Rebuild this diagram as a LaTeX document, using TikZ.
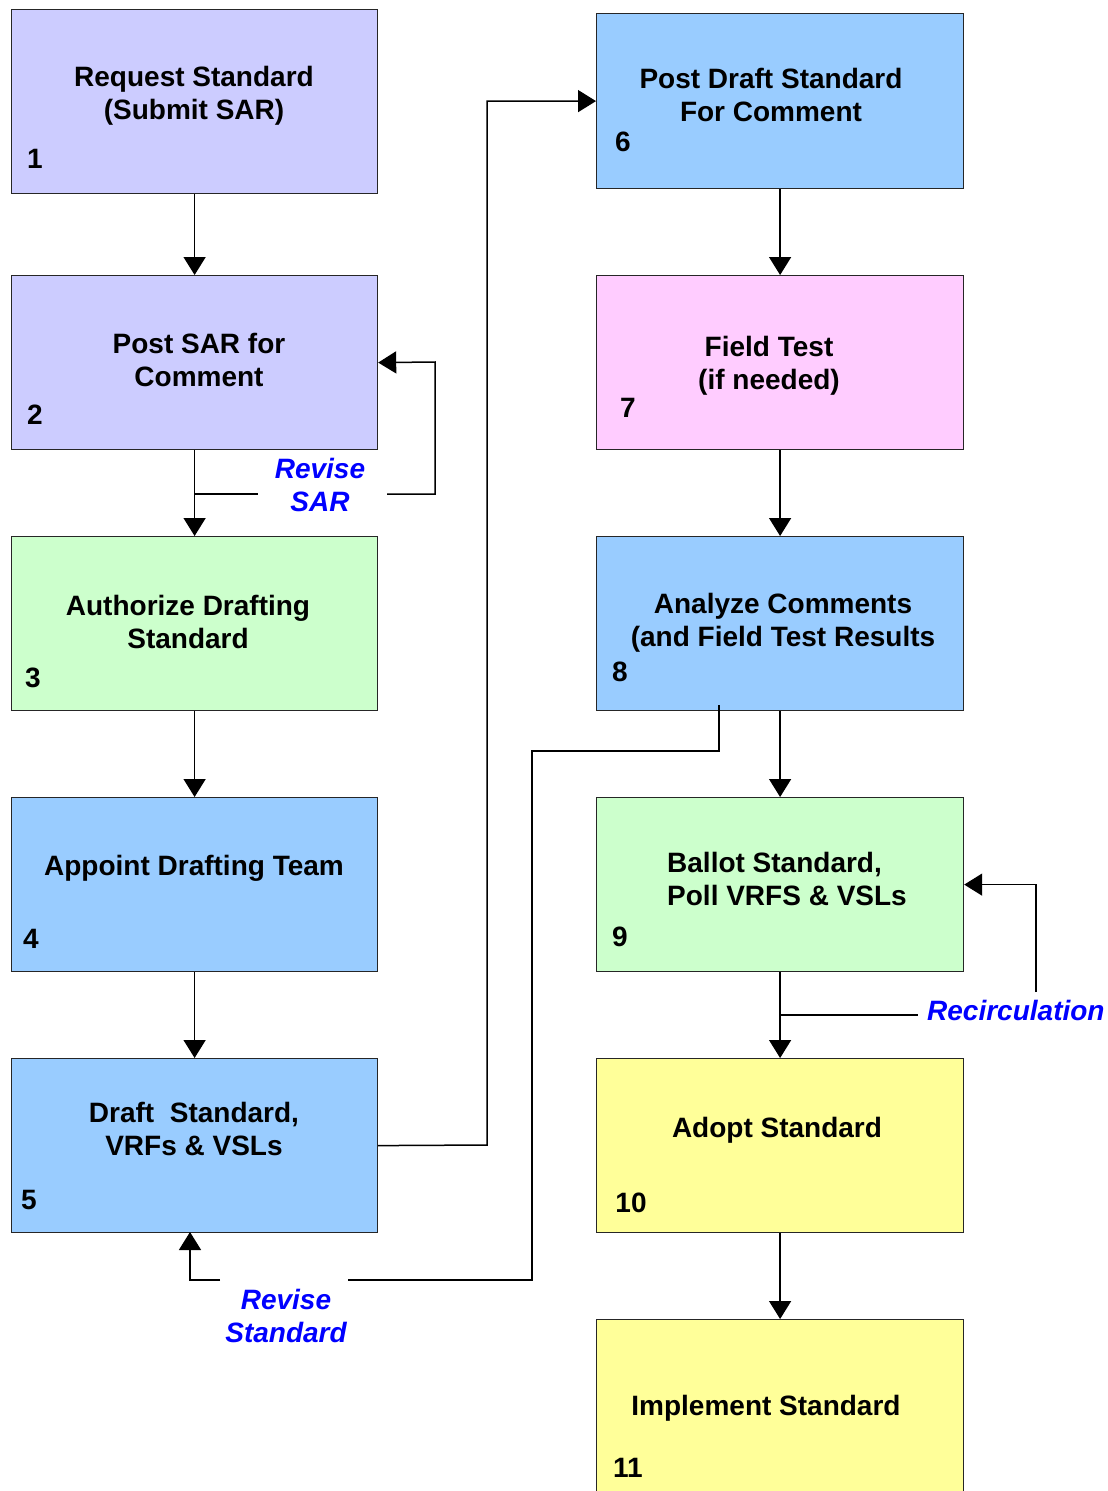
\documentclass[tikz,border=0pt]{standalone}
\usepackage{fontspec}
\setmainfont{Liberation Sans}
\usetikzlibrary{arrows.meta}
\definecolor{lav}{HTML}{CCCCFF}
\definecolor{grn}{HTML}{CCFFCC}
\definecolor{sky}{HTML}{99CCFF}
\definecolor{pnk}{HTML}{FFCCFF}
\definecolor{yel}{HTML}{FFFF99}
\definecolor{lblue}{HTML}{0000FF}
\begin{document}
\begin{tikzpicture}[x=1pt,y=-1pt,
  box/.style={draw=black!85, line width=1.2pt, minimum width=366pt, minimum height=174pt, inner sep=0pt, anchor=north west},
  txt/.style={inner sep=0pt, align=center, font=\fontsize{28pt}{33pt}\selectfont\bfseries},
  num/.style={inner sep=0pt, font=\fontsize{28pt}{33pt}\selectfont\bfseries},
  lab/.style={inner sep=0pt, align=center, text=lblue, font=\fontsize{28pt}{33pt}\selectfont\bfseries\itshape},
  ln/.style={line width=1.5pt, draw=black},
  arr/.style={ln, -{Triangle[width=22pt,length=18pt]}}]
\useasboundingbox (0,0) rectangle (1108,1491);
\fill[white] (0,0) rectangle (1108,1491);

% boxes
\node[box, fill=lav, minimum height=184pt] (b1) at (11,9) {};
\node[box, fill=lav] (b2) at (11,275) {};
\node[box, fill=grn] (b3) at (11,536) {};
\node[box, fill=sky] (b4) at (11,797) {};
\node[box, fill=sky] (b5) at (11,1058) {};
\node[box, fill=sky, minimum width=367pt, minimum height=175pt] (b6) at (596,13) {};
\node[box, fill=pnk, minimum width=367pt] (b7) at (596,275) {};
\node[box, fill=sky, minimum width=367pt] (b8) at (596,536) {};
\node[box, fill=grn, minimum width=367pt] (b9) at (596,797) {};
\node[box, fill=yel, minimum width=367pt] (b10) at (596,1058) {};
\node[box, fill=yel, minimum width=367pt, minimum height=200pt] (b11) at (596,1319) {};

% texts
\node[txt] (t1) at (194,96) {Request Standard\\(Submit SAR)};
\node[num] (n1) at (35,159) {1};
\node[txt] (t2) at (199,360) {Post SAR for\\Comment};
\node[num] (n2) at (35,415) {2};
\node[txt] (t3) at (188,622) {Authorize Drafting\\Standard};
\node[num] (n3) at (33,678) {3};
\node[txt] (t4) at (194,868) {Appoint Drafting Team};
\node[num] (n4) at (31,939) {4};
\node[txt] (t5) at (194,1129) {Draft~~Standard,\\VRFs \& VSLs};
\node[num] (n5) at (29,1200) {5};
\node[txt] (t6) at (771,95) {Post Draft Standard\\For Comment};
\node[num] (n6) at (623,142) {6};
\node[txt] (t7) at (769,366) {Field Test\\(if needed)};
\node[num] (n7) at (628,408) {7};
\node[txt] (t8) at (783,623) {Analyze Comments\\(and Field Test Results};
\node[num] (n8) at (620,672) {8};
\node[txt, align=left, anchor=west] (t9) at (667,879) {Ballot Standard,\\Poll VRFS \& VSLs};
\node[num] (n9) at (620,937) {9};
\node[txt] (t10) at (777,1130) {Adopt Standard};
\node[num] (n10) at (631,1203) {10};
\node[txt] (t11) at (766,1408) {Implement Standard};
\node[num] (n11) at (628,1468) {11};

% labels
\node[lab] (l1) at (320,485) {Revise\\SAR};
\node[lab] (l2) at (286,1316) {Revise\\Standard};
\node[lab, anchor=west] (l3) at (927,1010) {Recirculation};

% coordinates
\coordinate (j1) at (194,494);
\coordinate (g1) at (258,494);
\coordinate (g2) at (387,494);
\coordinate (c1) at (435,362);
\coordinate (c2) at (487,1145);
\coordinate (j2) at (780,1015);
\coordinate (g3) at (918,1015);
\coordinate (g4) at (1036,992);
\coordinate (s8) at (719,705);
\coordinate (c3) at (532,751);
\coordinate (g5) at (348,1280);
\coordinate (g6) at (220,1280);
\coordinate (e5) at (190,1232);

% connectors
\draw[arr] (b1.south) -- (b2.north);
\draw[arr] (b2.south) -- (b3.north);
\draw[ln] (j1) -- (g1);
\draw[arr] (g2) -| (c1) -- (b2.east);
\draw[arr] (b3.south) -- (b4.north);
\draw[arr] (b4.south) -- (b5.north);
\draw[arr] (b5.east) -- (c2) |- (b6.west);
\draw[arr] (b6.south) -- (b7.north);
\draw[arr] (b7.south) -- (b8.north);
\draw[arr] (b8.south) -- (b9.north);
\draw[arr] (b9.south) -- (b10.north);
\draw[arr] (b10.south) -- (b11.north);
\draw[ln] (j2) -- (g3);
\draw[arr] (g4) |- (b9.east);
\draw[ln] (s8) |- (c3) |- (g5);
\draw[arr] (g6) -| (e5);
\end{tikzpicture}
\end{document}
